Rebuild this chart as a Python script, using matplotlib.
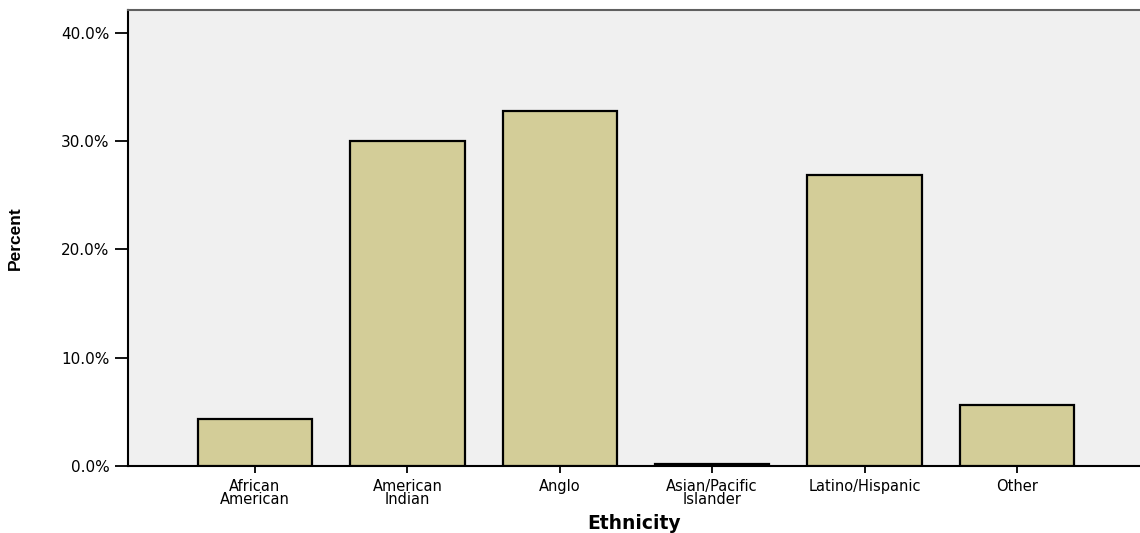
"""
Bar chart of percent by ethnicity
"""

import matplotlib
matplotlib.use("Agg")
import matplotlib.pyplot as plt
from matplotlib.ticker import FuncFormatter

categories = ["African\nAmerican", "American\nIndian", "Anglo",
              "Asian/Pacific\nIslander", "Latino/Hispanic", "Other"]
percents = [4.3, 30.0, 32.8, 0.2, 26.9, 5.6]
yticks = [0, 10, 20, 30, 40]

plt.rcParams['font.family'] = ['DejaVu Sans']

fig = plt.figure(figsize=(11.4, 5.33), dpi=100)
ax = fig.add_axes([0.1123, 0.1257, 0.8877, 0.8555])
ax.set_facecolor('#f0f0f0')

x = range(len(categories))
ax.bar(x, percents, width=0.75, color='#d3cd98', edgecolor='black',
       linewidth=1.6, zorder=3)

ax.set_xlim(-0.833, 5.807)
ax.set_ylim(0, 42.1)
ax.set_yticks(yticks)
ax.yaxis.set_major_formatter(FuncFormatter(lambda v, p: f"{v:.1f}%"))
ax.set_xticks(list(x))
ax.set_xticklabels(categories, fontsize=10.5, linespacing=0.9)

ax.tick_params(axis='y', length=9.5, width=1.3, labelsize=11, pad=4)
ax.tick_params(axis='x', length=5, width=1.3, pad=4)

for side in ['left', 'bottom']:
    ax.spines[side].set_color('black')
    ax.spines[side].set_linewidth(1.5)
ax.spines['top'].set_color('#606060')
ax.spines['top'].set_linewidth(1.5)
ax.spines['right'].set_visible(False)

ax.set_xlabel("Ethnicity", fontsize=13.5, fontweight='bold', labelpad=4.5)
ax.set_ylabel("Percent", fontsize=12.5, fontweight='bold',
              family=['Liberation Sans'])
ax.yaxis.set_label_coords(-0.1038, 0.5)

plt.savefig("out.png", dpi=100)
